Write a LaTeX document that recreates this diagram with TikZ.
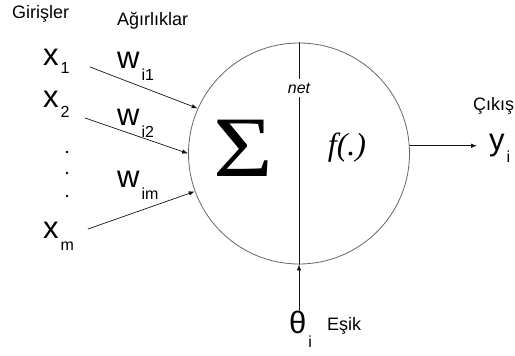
\documentclass[tikz,border=0pt]{standalone}
\usepackage{fontspec}
\usepackage{graphicx}
\usetikzlibrary{arrows.meta}
\newfontfamily\arialfont{Liberation Sans}
\newfontfamily\timesfont{Liberation Serif}
\newcommand{\vsub}[2][-9pt]{\hspace{2pt}\raisebox{#1}{\fontsize{16}{16}\selectfont #2}}

\begin{document}
\begin{tikzpicture}[x=1pt, y=-1pt, line cap=round,
  arr/.style={-{Latex[length=6pt,width=4.5pt]}, gray!15!black, line width=0.7pt},
  var/.style={inner sep=0pt, anchor=base west, font=\arialfont\fontsize{31}{31}\selectfont},
  lbl/.style={inner sep=0pt, anchor=base west, font=\arialfont\fontsize{18}{18}\selectfont}]
  \useasboundingbox (0,0) rectangle (515,356);
  % ===== neuron =====
  \node[circle, draw=gray!80!black, line width=0.8pt, minimum size=221pt, inner sep=0pt]
    (neuron) at (299,153.5) {};
  \draw[gray!15!black, line width=0.7pt] (neuron.north) -- (neuron.south);
  \node[fill=white, inner xsep=6pt, inner ysep=4pt,
    font=\arialfont\itshape\fontsize{16}{16}\selectfont] (net) at (299,88) {net};
  \node[inner sep=0pt, font=\timesfont\fontsize{82}{82}\selectfont] (sigma) at (243,148)
    {\scalebox{1.25}[1.05]{Σ}};
  \node[font=\timesfont\itshape\fontsize{32}{32}\selectfont] (func) at (347,148) {f(.)};
  % ===== inputs =====
  \node[lbl] (girisler) at (12,18) {Girişler};
  \node[lbl] (agirliklar) at (117,25) {Ağırlıklar};
  \node[var] (x1) at (43,65) {x\vsub[-8pt]{1}};
  \node[var] (x2) at (43,107) {x\vsub[-10pt]{2}};
  \node[var] (xm) at (43,238) {x\vsub[-12pt]{m}};
  \foreach \yy in {152,173,196}
    \fill[black] (67,\yy) circle (1.3pt);
  \node[var] (w1) at (117,68) {w\vsub[-12pt]{i1}};
  \node[var] (w2) at (117,125) {w\vsub[-12pt]{i2}};
  \node[var] (wm) at (117,187) {w\vsub[-12pt]{im}};
  \coordinate (s1) at (90,67);
  \coordinate (s2) at (85,118);
  \coordinate (sm) at (88,229);
  \draw[arr] (s1) -- (neuron.156);
  \draw[arr] (s2) -- (neuron.180);
  \draw[arr] (sm) -- (neuron.200);
  % ===== output =====
  \node[lbl] (cikis) at (473,110) {Çıkış};
  \node[var] (y) at (489,150) {y\vsub[-12pt]{i}};
  \draw[arr, shorten >=12pt] (neuron.4) -- (neuron.4 -| y.west);
  % ===== threshold =====
  \node[var] (theta) at (289,333) {θ\vsub[-14pt]{i}};
  \node[lbl] (esik) at (327,330) {Eşik};
  \draw[arr] (neuron.south |- theta.north) -- (neuron.south);
\end{tikzpicture}
\end{document}
